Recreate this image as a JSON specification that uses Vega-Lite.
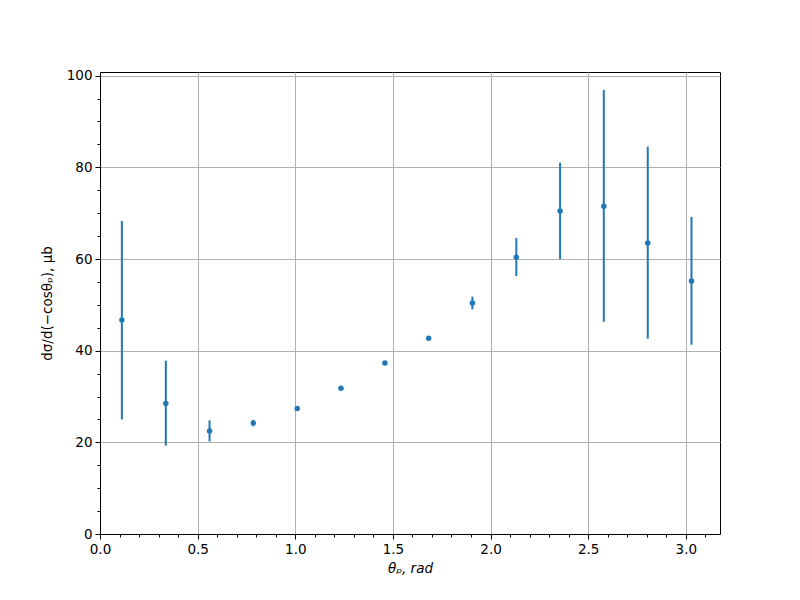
{
  "$schema": "https://vega.github.io/schema/vega-lite/v6.json",
  "width": 620,
  "height": 462,
  "autosize": {"type": "none"},
  "padding": {"left": 100, "top": 72, "right": 80, "bottom": 66},
  "background": "white",
  "config": {
    "view": {"stroke": "black", "strokeWidth": 1},
    "axis": {
      "labelFont": "DejaVu Sans",
      "labelFontSize": 13.5,
      "labelColor": "black",
      "titleFont": "DejaVu Sans",
      "titleFontSize": 13.5,
      "titleFontWeight": "normal",
      "titleColor": "black",
      "domainColor": "black",
      "domainWidth": 1,
      "tickColor": "black",
      "tickWidth": 1,
      "gridColor": "#b0b0b0",
      "gridWidth": 1,
      "labelPadding": 3
    }
  },
  "data": {
    "values": [
      {"theta": 0.112, "sigma": 46.7, "lo": 25.0, "hi": 68.3},
      {"theta": 0.337, "sigma": 28.5, "lo": 19.3, "hi": 37.8},
      {"theta": 0.561, "sigma": 22.5, "lo": 20.2, "hi": 24.8},
      {"theta": 0.785, "sigma": 24.2, "lo": 23.5, "hi": 24.9},
      {"theta": 1.010, "sigma": 27.4, "lo": 27.1, "hi": 27.7},
      {"theta": 1.234, "sigma": 31.8, "lo": 31.5, "hi": 32.1},
      {"theta": 1.459, "sigma": 37.3, "lo": 37.0, "hi": 37.6},
      {"theta": 1.683, "sigma": 42.7, "lo": 42.4, "hi": 43.0},
      {"theta": 1.907, "sigma": 50.4, "lo": 49.0, "hi": 51.8},
      {"theta": 2.132, "sigma": 60.4, "lo": 56.3, "hi": 64.6},
      {"theta": 2.356, "sigma": 70.5, "lo": 60.0, "hi": 81.0},
      {"theta": 2.580, "sigma": 71.5, "lo": 46.3, "hi": 96.9},
      {"theta": 2.805, "sigma": 63.5, "lo": 42.6, "hi": 84.5},
      {"theta": 3.029, "sigma": 55.2, "lo": 41.3, "hi": 69.2}
    ]
  },
  "encoding": {
    "x": {
      "field": "theta",
      "type": "quantitative",
      "scale": {"domain": [0, 3.175], "nice": false, "zero": false},
      "axis": {
        "title": "θₚ, rad",
        "titleFontStyle": "italic",
        "values": [0, 0.1, 0.2, 0.3, 0.4, 0.5, 0.6, 0.7, 0.8, 0.9, 1.0, 1.1, 1.2, 1.3, 1.4, 1.5, 1.6, 1.7, 1.8, 1.9, 2.0, 2.1, 2.2, 2.3, 2.4, 2.5, 2.6, 2.7, 2.8, 2.9, 3.0, 3.1],
        "labelExpr": "abs(datum.value*2 - round(datum.value*2)) < 0.001 ? format(datum.value, '.1f') : ''",
        "tickSize": {"condition": {"test": "abs(datum.value*2 - round(datum.value*2)) < 0.001", "value": 5}, "value": 3},
        "gridOpacity": {"condition": {"test": "abs(datum.value*2 - round(datum.value*2)) < 0.001", "value": 1}, "value": 0},
        "labelFlush": false,
        "labelOverlap": false,
        "titlePadding": 6
      }
    },
    "y": {
      "type": "quantitative",
      "scale": {"domain": [0, 100.8], "nice": false, "zero": false},
      "axis": {
        "title": "dσ/d(−cosθₚ), μb",
        "values": [0, 5, 10, 15, 20, 25, 30, 35, 40, 45, 50, 55, 60, 65, 70, 75, 80, 85, 90, 95, 100],
        "labelExpr": "datum.value % 20 === 0 ? format(datum.value, 'd') : ''",
        "tickSize": {"condition": {"test": "datum.value % 20 === 0", "value": 5}, "value": 3},
        "gridOpacity": {"condition": {"test": "datum.value % 20 === 0", "value": 1}, "value": 0},
        "labelFlush": false,
        "labelOverlap": false,
        "titlePadding": 12
      }
    }
  },
  "layer": [
    {
      "mark": {"type": "rule", "color": "#1f77b4", "strokeWidth": 2},
      "encoding": {
        "y": {"field": "lo", "type": "quantitative"},
        "y2": {"field": "hi"}
      }
    },
    {
      "mark": {"type": "circle", "color": "#1f77b4", "opacity": 1, "size": 30},
      "encoding": {
        "y": {"field": "sigma", "type": "quantitative"}
      }
    }
  ]
}
